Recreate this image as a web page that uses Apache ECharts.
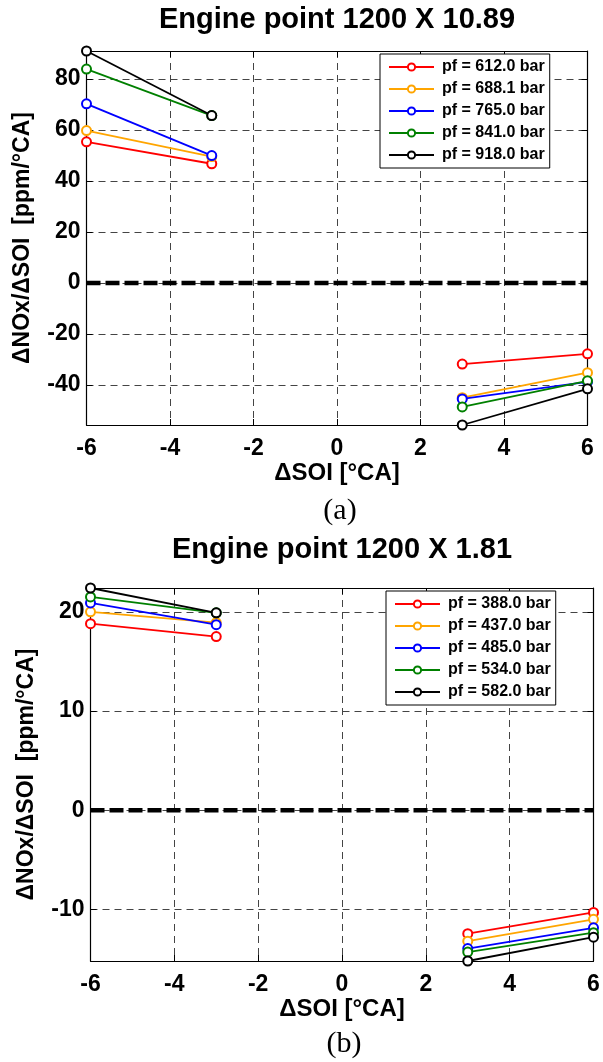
<!DOCTYPE html>
<html>
<head>
<meta charset="utf-8">
<script src="https://cdn.jsdelivr.net/npm/echarts@6/dist/echarts.min.js"></script>
<style>
html,body{margin:0;padding:0;background:#fff;}
#c{width:603px;height:1062px;}
</style>
</head>
<body>
<div id="c"></div>
<script>
// ---- data ----
var xLeft = [-6, -3];
var xRight = [3, 6];
var xTicks = [-6, -4, -2, 0, 2, 4, 6];

var colors = ['#ff0000', '#ffa500', '#0000ff', '#008000', '#000000'];

// chart (a)
var namesA = ['pf = 612.0 bar', 'pf = 688.1 bar', 'pf = 765.0 bar', 'pf = 841.0 bar', 'pf = 918.0 bar'];
var negA = [[55.3, 46.7], [59.7, 49.5], [70.2, 49.9], [83.8, 65.6], [90.9, 65.6]];
var posA = [[-31.8, -27.8], [-45.0, -35.2], [-45.5, -38.8], [-48.6, -38.4], [-55.7, -41.5]];
var yTicksA = [-40, -20, 0, 20, 40, 60, 80];
var yRangeA = [-55.7, 90.9];

// chart (b)
var namesB = ['pf = 388.0 bar', 'pf = 437.0 bar', 'pf = 485.0 bar', 'pf = 534.0 bar', 'pf = 582.0 bar'];
var negB = [[18.8, 17.5], [20.0, 18.9], [20.9, 18.7], [21.5, 19.9], [22.4, 19.9]];
var posB = [[-12.45, -10.3], [-13.2, -11.0], [-13.95, -11.85], [-14.3, -12.35], [-15.2, -12.8]];
var yTicksB = [-10, 0, 10, 20];
var yRangeB = [-15.2, 22.4];

var titles = ['Engine point 1200 X 10.89', 'Engine point 1200 X 1.81'];
var xName = '\u0394SOI [\u00b0CA]';
var yName = '\u0394NOx/\u0394SOI  [ppm/\u00b0CA]';
var panelLabels = ['(a)', '(b)'];

// ---- layout ----
var FONT = 'Liberation Sans, Arial, Helvetica, sans-serif';
var grids = [
  {left: 86.5, top: 51, width: 501, height: 374},
  {left: 90.5, top: 588, width: 503, height: 373}
];

function pairs(xs, ys) { return xs.map(function (x, i) { return [x, ys[i]]; }); }

var xAxes = [], yAxes = [], series = [], legends = [];
var gridLine = {show: true, lineStyle: {type: [7, 5], color: '#444', width: 1}};
var axisLineS = {show: true, onZero: false, lineStyle: {color: '#000', width: 1.2}};

[0, 1].forEach(function (g) {
  var ticks = g === 0 ? yTicksA : yTicksB;
  var rng = g === 0 ? yRangeA : yRangeB;
  var names = g === 0 ? namesA : namesB;
  var neg = g === 0 ? negA : negB;
  var pos = g === 0 ? posA : posB;

  xAxes.push({
    gridIndex: g, type: 'value', min: -6, max: 6, interval: 2, position: 'bottom',
    axisLine: axisLineS,
    axisTick: {show: true, inside: true, length: 6, lineStyle: {color: '#000'}},
    axisLabel: {fontSize: 23, fontWeight: 'bold', color: '#000', fontFamily: FONT, margin: 12},
    splitLine: gridLine,
    name: xName, nameLocation: 'middle', nameGap: 32,
    nameTextStyle: {fontSize: 24, fontWeight: 'bold', color: '#000', fontFamily: FONT, verticalAlign: 'top'}
  });
  xAxes.push({
    gridIndex: g, type: 'value', min: -6, max: 6, interval: 2, position: 'top',
    axisLine: axisLineS,
    axisTick: {show: true, inside: true, length: 6, lineStyle: {color: '#000'}},
    axisLabel: {show: false}, splitLine: {show: false}
  });
  yAxes.push({
    gridIndex: g, type: 'value', min: rng[0], max: rng[1], position: 'left',
    axisLine: axisLineS,
    axisTick: {show: true, inside: true, length: 6, lineStyle: {color: '#000'}, customValues: ticks},
    axisLabel: {fontSize: 23, fontWeight: 'bold', color: '#000', fontFamily: FONT, margin: 6, customValues: ticks},
    splitLine: gridLine,
    name: yName, nameLocation: 'middle', nameGap: 52, nameRotate: 90,
    nameTextStyle: {fontSize: 23, fontWeight: 'bold', color: '#000', fontFamily: FONT}
  });
  yAxes.push({
    gridIndex: g, type: 'value', min: rng[0], max: rng[1], position: 'right',
    axisLine: axisLineS,
    axisTick: {show: true, inside: true, length: 6, lineStyle: {color: '#000'}, customValues: ticks},
    axisLabel: {show: false}, splitLine: {show: false}
  });

  // zero reference line
  series.push({
    type: 'line', xAxisIndex: g * 2, yAxisIndex: g * 2, silent: true, symbol: 'none',
    data: [[-6, 0], [6, 0]],
    lineStyle: {color: '#000', width: 4.5, type: [14, 5]}, z: 3, clip: false
  });

  names.forEach(function (nm, i) {
    [[xLeft, neg[i]], [xRight, pos[i]]].forEach(function (seg) {
      series.push({
        type: 'line', name: nm, xAxisIndex: g * 2, yAxisIndex: g * 2,
        data: pairs(seg[0], seg[1]),
        symbol: 'emptyCircle', symbolSize: 9, clip: false,
        lineStyle: {color: colors[i], width: 1.8},
        itemStyle: {color: colors[i], borderWidth: 1.8},
        z: 4 + i
      });
    });
  });

  legends.push({
    data: names, orient: 'vertical', left: g === 0 ? 380 : 386, top: g === 0 ? 54 : 591,
    backgroundColor: '#fff', borderColor: '#000', borderWidth: 1,
    padding: [5, 5, 5, 8], itemWidth: 45, itemHeight: 9, itemGap: 6,
    selectedMode: false,
    textStyle: {fontSize: 16, fontWeight: 'bold', color: '#000', fontFamily: FONT, lineHeight: 16, padding: [0, 0, 0, 3]},
    z: 20
  });
});

var chart = echarts.init(document.getElementById('c'), null, {renderer: 'canvas'});
chart.setOption({
  backgroundColor: '#fff',
  animation: false,
  grid: grids,
  xAxis: xAxes,
  yAxis: yAxes,
  legend: legends,
  series: series,
  graphic: [
    {type: 'text', x: 337, y: 20, style: {text: titles[0], fontSize: 29, fontWeight: 'bold', fontFamily: FONT, fill: '#000', textAlign: 'center', textVerticalAlign: 'middle'}},
    {type: 'text', x: 342, y: 550, style: {text: titles[1], fontSize: 29, fontWeight: 'bold', fontFamily: FONT, fill: '#000', textAlign: 'center', textVerticalAlign: 'middle'}},
    {type: 'text', x: 340, y: 511, style: {text: panelLabels[0], fontSize: 30, fontFamily: 'Liberation Serif, Times New Roman, serif', fill: '#000', textAlign: 'center', textVerticalAlign: 'middle'}},
    {type: 'text', x: 344, y: 1044, style: {text: panelLabels[1], fontSize: 30, fontFamily: 'Liberation Serif, Times New Roman, serif', fill: '#000', textAlign: 'center', textVerticalAlign: 'middle'}}
  ]
});
</script>
</body>
</html>
